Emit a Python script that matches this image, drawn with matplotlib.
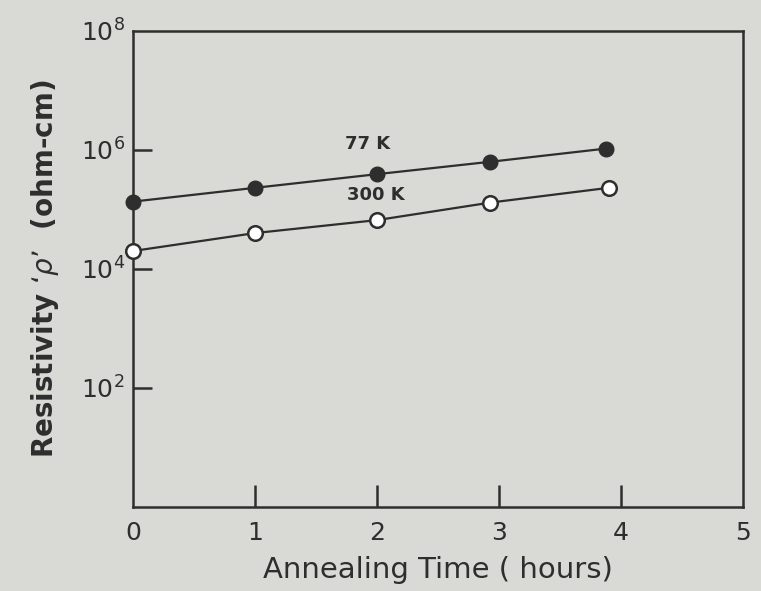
import numpy as np
import matplotlib
matplotlib.use("Agg")
import matplotlib.pyplot as plt
from matplotlib.ticker import FixedLocator, NullLocator

# annealing time (hours)
time_77 = [0, 1, 2, 2.93, 3.88]
time_300 = [0, 1, 2, 2.93, 3.9]
# resistivity (ohm-cm)
rho_77 = [1.35e5, 2.3e5, 3.9e5, 6.3e5, 1.05e6]
rho_300 = [2.0e4, 4.0e4, 6.6e4, 1.3e5, 2.3e5]

x_ticks = [0, 1, 2, 3, 4, 5]
y_ticks = [1e2, 1e4, 1e6, 1e8]

paper = "#d9d9d5"
ink = "#2e2e2e"

fig = plt.figure(figsize=(7.61, 5.91), dpi=100, facecolor=paper)
ax = fig.add_axes([0.175, 0.142, 0.801, 0.806], facecolor=paper)

ax.plot(time_77, rho_77, color=ink, lw=1.6, marker="o", ms=10.5,
        mfc=ink, mec=ink, clip_on=False, zorder=3)
ax.plot(time_300, rho_300, color=ink, lw=1.6, marker="o", ms=10.5,
        mfc="white", mec=ink, mew=1.8, clip_on=False, zorder=3)

ax.text(1.74, 1.05e6, "77 K", color=ink, fontsize=13, fontweight="bold")
ax.text(1.75, 1.45e5, "300 K", color=ink, fontsize=13, fontweight="bold")

ax.set_yscale("log")
ax.set_xlim(0, 5)
ax.set_ylim(1, 1e8)

ax.xaxis.set_major_locator(FixedLocator(x_ticks))
ax.yaxis.set_major_locator(FixedLocator(y_ticks))
ax.yaxis.set_minor_locator(NullLocator())
ax.tick_params(axis="both", direction="in", colors=ink, width=1.8,
               labelsize=18)
ax.tick_params(axis="x", length=16, pad=10)
ax.tick_params(axis="y", length=14, pad=6)
for lbl in ax.get_xticklabels() + ax.get_yticklabels():
    lbl.set_color(ink)

# the corner ticks are just the frame in the original
xt = ax.xaxis.get_major_ticks()
xt[0].tick1line.set_visible(False)
xt[-1].tick1line.set_visible(False)
ax.yaxis.get_major_ticks()[-1].tick1line.set_visible(False)

for s in ax.spines.values():
    s.set_linewidth(1.8)
    s.set_color(ink)

ax.set_xlabel("Annealing Time ( hours)", fontsize=21, color=ink, labelpad=8)
ax.set_ylabel("Resistivity \u2018$\\rho$\u2019  (ohm-cm)", fontsize=20,
              color=ink, fontweight="bold", labelpad=14)

fig.savefig("out.png", dpi=100, facecolor=paper)
